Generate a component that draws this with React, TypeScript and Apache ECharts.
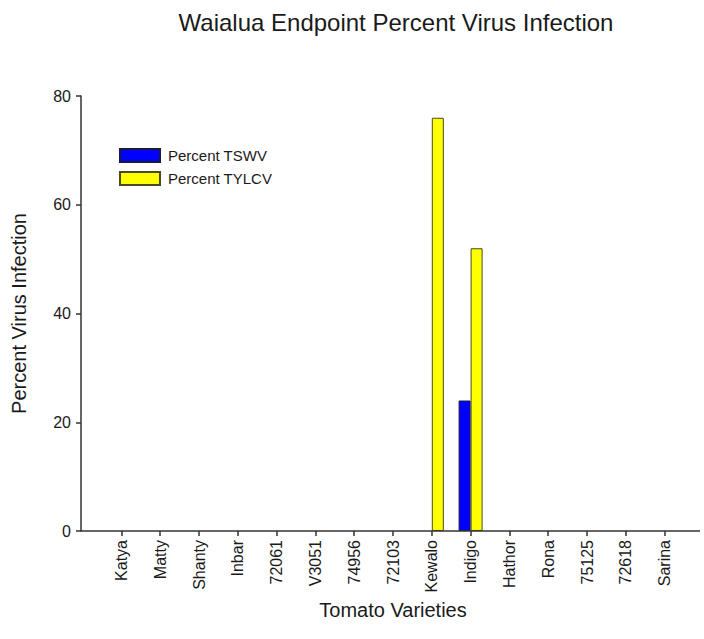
import React, { useEffect, useRef } from "react";
import * as echarts from "echarts";

const categories = ["Katya", "Matty", "Shanty", "Inbar", "72061", "V3051", "74956", "72103", "Kewalo", "Indigo", "Hathor", "Rona", "75125", "72618", "Sarina"];
const tswv = [0, 0, 0, 0, 0, 0, 0, 0, 0, 24, 0, 0, 0, 0, 0];
const tylcv = [0, 0, 0, 0, 0, 0, 0, 0, 76, 52, 0, 0, 0, 0, 0];
const yTicks = [0, 20, 40, 60, 80];

const FONT = "'Liberation Sans', Arial, sans-serif";

const withBorder = (vals: number[]) =>
  vals.map((v) => (v === 0 ? { value: v, itemStyle: { borderWidth: 0 } } : v));

export default function App() {
  const ref = useRef<HTMLDivElement>(null);
  useEffect(() => {
    if (!ref.current) return;
    const chart = echarts.init(ref.current, undefined, { renderer: "svg" });
    chart.setOption({
      animation: false,
      backgroundColor: "#fff",
      textStyle: { fontFamily: FONT },
      title: {
        text: "Waialua Endpoint Percent Virus Infection",
        left: 391,
        top: 5,
        textAlign: "center",
        textStyle: { fontFamily: FONT, fontSize: 24, fontWeight: "normal", color: "#1a1a1a" },
      },
      legend: {
        orient: "vertical",
        left: 119,
        top: 148,
        padding: 0,
        itemWidth: 40,
        itemHeight: 13,
        itemGap: 8,
        icon: "rect",
        textStyle: { fontFamily: FONT, fontSize: 15, color: "#1a1a1a", padding: [0, 0, 0, 3] },
        data: ["Percent TSWV", "Percent TYLCV"],
      },
      grid: { left: 102, right: 20, top: 96, bottom: 108, containLabel: false },
      xAxis: {
        type: "category",
        data: categories,
        axisLine: { show: false },
        axisTick: { show: true, alignWithLabel: true, length: 5, inside: false, lineStyle: { color: "#333", width: 1.5 } },
        axisLabel: { rotate: 90, fontSize: 16, color: "#1a1a1a", margin: 9, fontFamily: FONT },
        name: "Tomato Varieties",
        nameLocation: "middle",
        nameGap: 60,
        nameTextStyle: { fontSize: 20, color: "#1a1a1a", fontFamily: FONT },
      },
      yAxis: {
        type: "value",
        min: 0,
        max: 80,
        interval: 20,
        offset: 21,
        splitLine: { show: false },
        axisLine: { show: true, lineStyle: { color: "#333", width: 1.5 } },
        axisTick: { show: true, length: 5, lineStyle: { color: "#333", width: 1.5 } },
        axisLabel: {
          fontSize: 16,
          color: "#1a1a1a",
          margin: 10,
          fontFamily: FONT,
          customValues: yTicks,
        },
        name: "Percent Virus Infection",
        nameLocation: "middle",
        nameGap: 52,
        nameTextStyle: { fontSize: 20, color: "#1a1a1a", fontFamily: FONT },
      },
      graphic: [
        {
          type: "line",
          shape: { x1: 81, y1: 531, x2: 700, y2: 531 },
          style: { stroke: "#333", lineWidth: 1.5 },
          z: 10,
        },
      ],
      series: [
        {
          name: "Percent TSWV",
          type: "bar",
          data: withBorder(tswv),
          barWidth: 12,
          barGap: "0%",
          itemStyle: { color: "#0000ff", borderColor: "#1a1a40", borderWidth: 1 },
        },
        {
          name: "Percent TYLCV",
          type: "bar",
          data: withBorder(tylcv),
          barWidth: 12,
          barGap: "0%",
          itemStyle: { color: "#ffff00", borderColor: "#4a4a20", borderWidth: 1 },
        },
      ],
    });
    return () => chart.dispose();
  }, []);
  return <div ref={ref} style={{ width: 704, height: 639, position: "absolute", left: 0, top: 0 }} />;
}
